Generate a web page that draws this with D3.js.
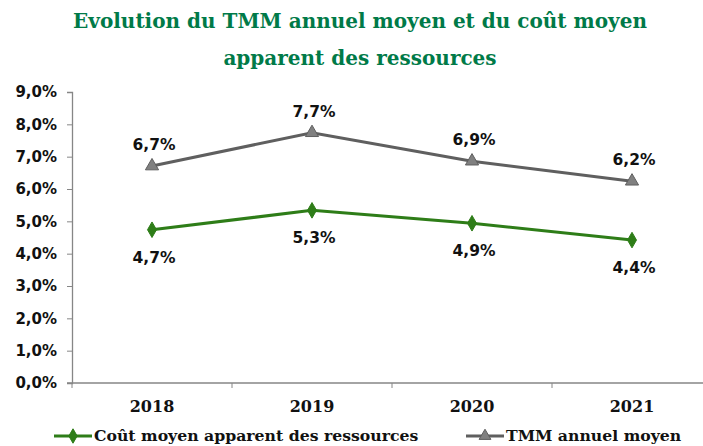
<!DOCTYPE html>
<html>
<head>
<meta charset="utf-8">
<script src="https://cdn.jsdelivr.net/npm/d3@7"></script>
<style>
  body { margin: 0; background: #fff; }
  svg { display: block; }
</style>
</head>
<body>
<div id="chart"></div>
<script>
// data
const years = ["2018", "2019", "2020", "2021"];
const coutMoyen = [4.74, 5.34, 4.94, 4.42];
const tmmMoyen = [6.71, 7.74, 6.86, 6.24];
const yTicks = [0, 1, 2, 3, 4, 5, 6, 7, 8, 9];
const titleLines = ["Evolution du TMM annuel moyen et du coût moyen", "apparent des ressources"];
const seriesNames = ["Coût moyen apparent des ressources", "TMM annuel moyen"];

const width = 703, height = 446;
const sans = "'DejaVu Sans', Verdana, sans-serif";
const serif = "'DejaVu Serif', 'Bookman Old Style', serif";

const svg = d3.select("#chart").append("svg")
    .attr("width", width)
    .attr("height", height);

// scales - plot runs past the right edge like in the source
let x = d3.scaleBand().domain(years).range([72, 712]);
let y = d3.scaleLinear().domain([0, 9]).range([383, 92]);

// title
svg.append("g").selectAll("text")
    .data(titleLines)
    .join("text")
    .attr("x", 360)
    .attr("y", (d, i) => 28 + i * 37)
    .attr("text-anchor", "middle")
    .attr("font-family", serif)
    .attr("font-weight", "bold")
    .attr("font-size", 20)
    .attr("fill", "#007A48")
    .text(d => d);

// y axis
let yAxis = svg.append("g")
    .attr("transform", "translate(72,0)")
    .call(d3.axisLeft(y).tickValues(yTicks).tickSize(5).tickPadding(10)
        .tickFormat(d => d3.format(".1f")(d).replace(".", ",") + "%"));
yAxis.select(".domain").attr("stroke", "#868686").attr("stroke-width", 1.3);
yAxis.selectAll(".tick line").attr("stroke", "#868686");
yAxis.selectAll(".tick text")
    .attr("font-family", sans)
    .attr("font-weight", "bold")
    .attr("font-size", 15)
    .attr("fill", "#111");

// x axis : ticks at category boundaries
let xAxis = svg.append("g").attr("transform", "translate(0,383)");
xAxis.append("line")
    .attr("x1", 67).attr("x2", 712)
    .attr("stroke", "#868686").attr("stroke-width", 1.3);
xAxis.selectAll(".bound")
    .data(years.concat(["end"]))
    .join("line")
    .attr("class", "bound")
    .attr("x1", (d, i) => x.range()[0] + i * x.step())
    .attr("x2", (d, i) => x.range()[0] + i * x.step())
    .attr("y1", 0).attr("y2", 5)
    .attr("stroke", "#868686");
xAxis.selectAll(".lbl")
    .data(years)
    .join("text")
    .attr("class", "lbl")
    .attr("x", d => x(d) + x.bandwidth() / 2)
    .attr("y", 29)
    .attr("text-anchor", "middle")
    .attr("font-family", serif)
    .attr("font-weight", "bold")
    .attr("font-size", 16)
    .attr("fill", "#111")
    .text(d => d);

const cx = d => x(d) + x.bandwidth() / 2;
const fmt = v => d3.format(".1f")(v).replace(".", ",") + "%";

let line = d3.line()
    .x((d, i) => cx(years[i]))
    .y(d => y(d));

const series = [
  {name: seriesNames[0], values: coutMoyen, color: "#2E7D18", fill: "#2E7D18", shape: d3.symbolDiamond, labelDy: 33},
  {name: seriesNames[1], values: tmmMoyen, color: "#5F5F5F", fill: "#808080", shape: d3.symbolTriangle, labelDy: -16}
];

series.forEach(s => {
  let g = svg.append("g");
  g.append("path")
      .datum(s.values)
      .attr("d", line)
      .attr("fill", "none")
      .attr("stroke", s.color)
      .attr("stroke-width", 3);
  g.selectAll("path.mk")
      .data(s.values)
      .join("path")
      .attr("class", "mk")
      .attr("d", d3.symbol().type(s.shape).size(s.shape === d3.symbolDiamond ? 70 : 75))
      .attr("transform", (d, i) => `translate(${cx(years[i])},${y(d)})`)
      .attr("fill", s.fill)
      .attr("stroke", s.color)
      .attr("stroke-width", 1);
  g.selectAll("text")
      .data(s.values)
      .join("text")
      .attr("x", (d, i) => cx(years[i]) + 2)
      .attr("y", d => y(d) + s.labelDy)
      .attr("text-anchor", "middle")
      .attr("font-family", sans)
      .attr("font-weight", "bold")
      .attr("font-size", 15.5)
      .attr("fill", "#111")
      .text(d => fmt(d));
});

// legend
let legend = svg.append("g").attr("transform", "translate(0,436)");
const legX = [54, 466];
series.forEach((s, i) => {
  let lg = legend.append("g").attr("transform", `translate(${legX[i]},0)`);
  lg.append("line")
      .attr("x1", 0).attr("x2", 38)
      .attr("stroke", s.color).attr("stroke-width", 3);
  lg.append("path")
      .attr("d", d3.symbol().type(s.shape).size(60))
      .attr("transform", "translate(19,0)")
      .attr("fill", s.fill)
      .attr("stroke", s.color);
  lg.append("text")
      .attr("x", 40)
      .attr("y", 5)
      .attr("font-family", serif)
      .attr("font-weight", "bold")
      .attr("font-size", 15.7)
      .attr("fill", "#111")
      .text(s.name);
});
</script>
</body>
</html>
